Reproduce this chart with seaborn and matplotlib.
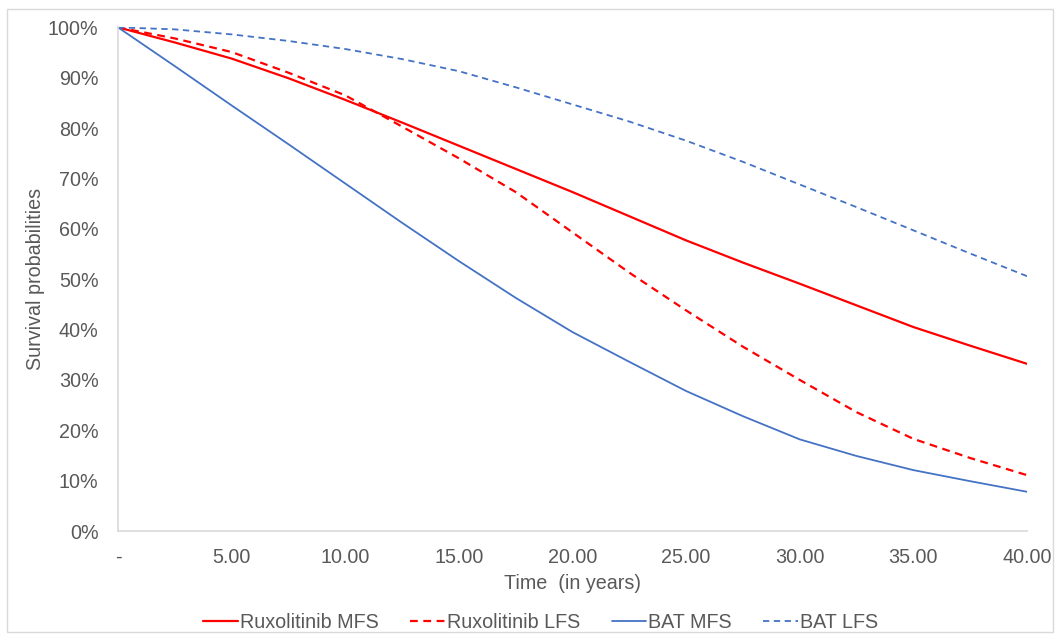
import numpy as np
import pandas as pd
import matplotlib
matplotlib.use("Agg")
import matplotlib.pyplot as plt
import seaborn as sns
from matplotlib.patches import Rectangle
from matplotlib.ticker import FuncFormatter

# -----------------------------------------------------------
# Data
# -----------------------------------------------------------
years = [0, 2.5, 5, 7.5, 10, 12.5, 15, 17.5, 20, 22.5, 25, 27.5, 30, 32.5, 35, 37.5, 40]

rux_mfs = [100, 97.0, 93.8, 89.9, 85.6, 81.1, 76.5, 71.9, 67.3, 62.5, 57.7, 53.3, 49.1, 44.8, 40.5, 36.8, 33.2]
rux_lfs = [100, 97.8, 95.1, 91.0, 86.5, 80.3, 74.0, 67.3, 59.3, 51.3, 43.8, 36.6, 30.0, 23.6, 18.3, 14.5, 11.1]
bat_mfs = [100, 92.3, 84.5, 76.8, 69.0, 61.2, 53.6, 46.3, 39.5, 33.6, 27.8, 22.8, 18.2, 14.9, 12.1, 9.9, 7.8]
bat_lfs = [100, 99.6, 98.6, 97.3, 95.7, 93.7, 91.3, 88.1, 84.7, 81.3, 77.5, 73.3, 68.8, 64.3, 59.7, 55.1, 50.6]

series_names = ['Ruxolitinib MFS', 'Ruxolitinib LFS', 'BAT MFS', 'BAT LFS']
x_ticks = [0, 5, 10, 15, 20, 25, 30, 35, 40]
y_ticks = [0, 10, 20, 30, 40, 50, 60, 70, 80, 90, 100]

df = pd.concat([
    pd.DataFrame({'Time': years, 'Survival': vals, 'Series': name})
    for name, vals in zip(series_names, [rux_mfs, rux_lfs, bat_mfs, bat_lfs])
], ignore_index=True)

# -----------------------------------------------------------
# Style
# -----------------------------------------------------------
sns.set_style('white')
plt.rcParams['font.family'] = ['Liberation Sans', 'DejaVu Sans']
text_col = '#595959'
axis_col = '#D9D9D9'
red = '#FF0000'
blue = '#4472C4'
fs = 14.2

palette = {'Ruxolitinib MFS': red, 'Ruxolitinib LFS': red,
           'BAT MFS': blue, 'BAT LFS': blue}
dashes = {'Ruxolitinib MFS': '', 'Ruxolitinib LFS': (3.5, 2.5),
          'BAT MFS': '', 'BAT LFS': (3.5, 2.5)}

fig = plt.figure(figsize=(10.6, 6.36), dpi=100)
ax = fig.add_axes([0.1113, 0.165, 0.8576, 0.792])

sns.lineplot(data=df, x='Time', y='Survival', hue='Series', style='Series',
             palette=palette, dashes=dashes, hue_order=series_names,
             style_order=series_names, linewidth=1.5, ax=ax, legend=True)

# thinner blue lines, like the reference
for line in ax.get_lines():
    if line.get_color() == blue:
        line.set_linewidth(1.3)
    else:
        line.set_linewidth(1.6)

# -----------------------------------------------------------
# Axes
# -----------------------------------------------------------
ax.set_xlim(0, 40)
ax.set_ylim(0, 100)
ax.set_xticks(x_ticks)
ax.set_yticks(y_ticks)
ax.xaxis.set_major_formatter(FuncFormatter(lambda v, p: '-' if v == 0 else f'{v:.2f}'))
ax.yaxis.set_major_formatter(FuncFormatter(lambda v, p: f'{v:.0f}%'))
ax.tick_params(axis='both', length=0, labelsize=fs, colors=text_col)
ax.tick_params(axis='x', pad=12)
ax.tick_params(axis='y', pad=14)

for side in ['top', 'right']:
    ax.spines[side].set_visible(False)
for side in ['left', 'bottom']:
    ax.spines[side].set_color(axis_col)
    ax.spines[side].set_linewidth(1.2)

ax.set_xlabel('Time  (in years)', fontsize=fs, color=text_col, labelpad=5)
ax.set_ylabel('Survival probabilities', fontsize=fs, color=text_col, labelpad=2)

# Legend at the bottom
handles, labels = ax.get_legend_handles_labels()
ax.get_legend().remove()
fig.legend(handles, labels, loc='center', bbox_to_anchor=(0.51, 0.022), ncol=4,
           frameon=False, fontsize=fs, handlelength=1.75, handletextpad=0.1,
           columnspacing=1.6, labelcolor=text_col)

# Chart border
fig.patches.append(Rectangle((7 / 1060, 4 / 636), 1046 / 1060, 623 / 636,
                             transform=fig.transFigure, fill=False,
                             edgecolor=axis_col, linewidth=1.0))

plt.savefig('out.png', dpi=100)
